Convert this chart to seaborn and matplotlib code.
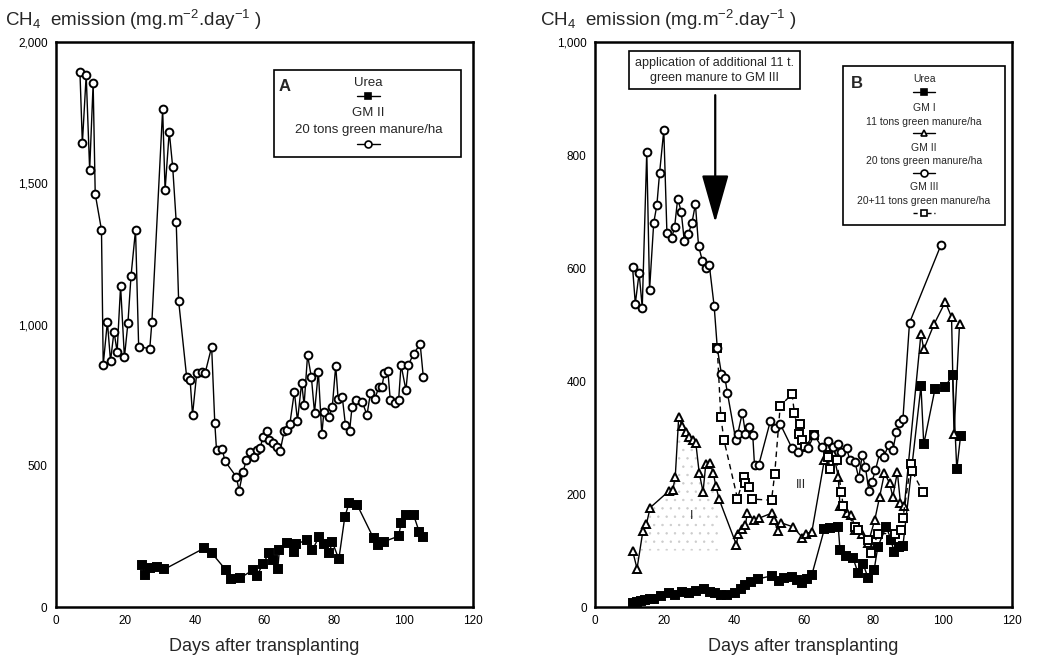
import numpy as np
import pandas as pd
import matplotlib
matplotlib.use("Agg")
import matplotlib.pyplot as plt
from matplotlib.patches import Rectangle
import seaborn as sns

# ---------------- Panel A: Urea vs GM II ----------------
a_gm2_day = [6.9, 7.6, 8.7, 9.7, 10.7, 11.3, 13.1, 13.6, 14.8, 15.7, 16.7, 17.6, 18.6, 19.7,
             20.7, 21.6, 22.9, 23.8, 27.0, 27.6, 30.7, 31.4, 32.6, 33.6, 34.6, 35.3, 37.6,
             38.6, 39.3, 40.5, 41.9, 42.9, 44.8, 45.7, 46.2, 47.9, 48.6, 51.9, 52.7, 53.8,
             54.8, 55.7, 56.9, 57.8, 58.8, 59.5, 60.7, 61.2, 62.4, 63.5, 64.5, 65.7, 66.4,
             67.3, 68.6, 69.5, 70.7, 71.4, 72.4, 73.5, 74.4, 75.5, 76.5, 77.1, 78.6, 79.5,
             80.5, 81.2, 82.4, 83.3, 84.5, 85.2, 86.4, 88.1, 89.5, 90.5, 91.7, 92.9, 93.8,
             94.5, 95.5, 96.2, 97.6, 98.6, 99.3, 100.7, 101.4, 102.9, 104.8, 105.7]
a_gm2_val = [1895, 1641, 1883, 1547, 1854, 1462, 1335, 857, 1010, 871, 975, 904, 1136, 884,
             1004, 1172, 1335, 921, 915, 1008, 1762, 1476, 1683, 1556, 1364, 1084, 815,
             804, 680, 827, 833, 827, 921, 652, 556, 558, 517, 461, 412, 478,
             520, 550, 532, 556, 562, 601, 624, 591, 579, 567, 552, 624, 627,
             648, 762, 659, 794, 715, 892, 813, 688, 833, 611, 691, 674, 707,
             854, 735, 742, 644, 624, 709, 733, 727, 680, 758, 735, 778, 780,
             829, 836, 733, 721, 733, 857, 768, 857, 896, 931, 815]

a_urea_day = [24.8, 25.7, 27.1, 29.0, 31.1, 42.6, 44.9, 48.9, 50.3, 52.9, 56.7, 57.8, 59.5,
              61.4, 62.4, 63.8, 64.3, 66.4, 68.6, 69.2, 72.1, 73.8, 75.7, 77.1, 78.6, 79.5,
              81.4, 83.1, 84.3, 86.7, 91.4, 92.7, 94.3, 98.6, 99.3, 100.7, 102.9, 104.5, 105.7]
a_urea_val = [149, 113, 137, 140, 133, 208, 190, 131, 98, 102, 131, 110, 152,
              192, 166, 133, 202, 228, 196, 223, 237, 202, 249, 223, 190, 231,
              169, 318, 367, 361, 243, 220, 231, 251, 296, 326, 326, 267, 247]

# ---------------- Panel B: Urea, GM I, GM II, GM III ----------------
b_urea_day = [10.8, 12.0, 13.2, 14.4, 15.7, 17.0, 19.0, 21.4, 23.0, 25.0, 27.0, 29.0, 31.4,
              33.0, 34.5, 36.2, 38.0, 40.3, 42.0, 43.3, 45.0, 47.0, 50.8, 52.9, 54.5, 56.7,
              58.0, 59.5, 61.0, 62.4, 66.0, 67.6, 70.0, 70.5, 72.1, 74.3, 75.7, 77.1, 78.6,
              80.3, 81.4, 83.8, 85.2, 86.0, 87.6, 88.6, 93.8, 94.6, 97.8, 100.7, 102.9,
              104.1, 105.2]
b_urea_val = [7, 8, 10, 12, 15, 14, 20, 24, 22, 26, 25, 28, 31,
              27, 25, 21, 22, 24, 32, 39, 45, 50, 55, 46, 52, 54,
              48, 42, 50, 57, 138, 139, 142, 101, 90, 86, 60, 77, 51,
              65, 107, 142, 119, 98, 107, 108, 391, 288, 385, 389, 411,
              244, 303]

b_gm1_day = [10.8, 12.1, 13.8, 14.8, 15.9, 21.4, 22.4, 23.1, 24.1, 25.1, 26.2, 27.1, 28.1,
             29.0, 30.0, 31.1, 31.9, 33.1, 34.0, 34.8, 35.7, 40.7, 41.2, 42.4, 43.3, 43.8,
             45.7, 47.1, 50.8, 51.4, 52.7, 53.6, 56.9, 59.7, 60.7, 62.4, 66.0, 66.7, 68.6,
             70.0, 70.5, 72.4, 73.8, 74.9, 76.7, 78.6, 80.5, 81.9, 83.3, 84.8, 85.7, 87.0,
             87.9, 89.0, 93.8, 94.6, 97.6, 100.8, 102.6, 103.3, 104.9]
b_gm1_val = [100, 68, 135, 147, 176, 206, 207, 231, 337, 320, 309, 301, 296,
             291, 237, 204, 254, 255, 238, 214, 191, 110, 130, 138, 145, 166,
             154, 157, 166, 154, 135, 149, 142, 123, 130, 133, 260, 284, 272,
             231, 178, 166, 163, 136, 130, 113, 154, 195, 237, 219, 195, 239,
             184, 178, 484, 456, 501, 540, 513, 307, 501]

b_gm2_day = [10.8, 11.6, 12.7, 13.6, 14.9, 15.7, 16.9, 17.8, 18.6, 19.8, 20.7, 22.1, 22.9,
             23.8, 24.8, 25.7, 26.9, 27.9, 28.9, 29.8, 30.9, 31.9, 32.9, 34.3, 35.2, 36.4,
             37.4, 38.1, 40.5, 41.1, 42.4, 43.3, 44.3, 45.4, 45.9, 47.1, 50.5, 51.7, 53.3,
             56.7, 58.4, 61.2, 63.1, 65.2, 67.0, 68.6, 70.0, 70.9, 72.4, 73.3, 74.8, 75.9,
             76.9, 77.8, 78.8, 79.7, 80.7, 81.9, 83.1, 84.5, 85.7, 86.7, 87.6, 88.6, 90.5,
             99.5]
b_gm2_val = [602, 537, 591, 530, 806, 561, 680, 711, 769, 844, 662, 654, 672,
             723, 700, 648, 661, 680, 713, 639, 613, 600, 605, 532, 458, 412,
             405, 379, 296, 307, 344, 307, 318, 304, 251, 251, 330, 316, 324,
             281, 275, 281, 304, 284, 293, 284, 288, 275, 281, 261, 257, 228,
             269, 248, 206, 222, 242, 272, 266, 287, 278, 309, 325, 332, 503,
             640]

b_gm3_day = [35.2, 36.2, 37.1, 41.0, 42.9, 43.3, 44.3, 45.2, 50.8, 51.7, 53.3, 56.7, 57.4,
             58.6, 59.1, 59.5, 60.5, 62.9, 67.0, 67.6, 69.5, 70.9, 71.4, 74.8, 75.7, 78.6,
             79.5, 81.4, 86.2, 88.1, 88.6, 90.9, 91.2, 94.3]
b_gm3_val = [458, 337, 296, 192, 231, 220, 213, 191, 189, 235, 356, 377, 343,
             307, 324, 296, 284, 304, 266, 245, 260, 204, 178, 142, 136, 119,
             95, 130, 130, 136, 157, 254, 241, 204]

x_ticks = [0, 20, 40, 60, 80, 100, 120]
a_y_ticks = [0, 500, 1000, 1500, 2000]
b_y_ticks = [0, 200, 400, 600, 800, 1000]

y_title = "CH$_4$  emission (mg.m$^{-2}$.day$^{-1}$ )"
x_title = "Days after transplanting"

sns.set_style("white")
plt.rcParams["font.family"] = ["Liberation Sans", "DejaVu Sans"]
plt.rcParams["mathtext.fontset"] = "custom"
plt.rcParams["mathtext.rm"] = "Liberation Sans"
plt.rcParams["mathtext.it"] = "Liberation Sans"
plt.rcParams["hatch.linewidth"] = 0.5

fig = plt.figure(figsize=(10.4, 6.65), dpi=100)
axA = fig.add_axes([0.0538, 0.0872, 0.401, 0.8496])
axB = fig.add_axes([0.5721, 0.0872, 0.401, 0.8496])

MS = 5.6


def series(ax, days, vals, marker, face, ls="-", ms=MS, z=3):
    df = pd.DataFrame({"day": days, "val": vals})
    sns.lineplot(data=df, x="day", y="val", ax=ax, estimator=None, sort=False,
                 color="black", lw=1.0, linestyle=ls, marker=marker, markersize=ms,
                 markerfacecolor=face, markeredgecolor="black", markeredgewidth=1.4,
                 zorder=z, legend=False)


def style_axes(ax, ymax, yticks):
    ax.set_xlim(0, 120)
    ax.set_ylim(0, ymax)
    ax.set_xticks(x_ticks)
    ax.set_yticks(yticks)
    ax.set_yticklabels([f"{t:,}" for t in yticks])
    ax.tick_params(direction="in", length=5, width=1.2, labelsize=8.5, pad=6,
                   colors="black")
    for s in ax.spines.values():
        s.set_linewidth(1.8)
        s.set_color("black")
    ax.set_xlabel(x_title, fontsize=13, labelpad=8)
    ax.set_ylabel("")


def legend_box(ax, x0, y0, x1, y1):
    ax.add_patch(Rectangle((x0, y0), x1 - x0, y1 - y0, transform=ax.transAxes,
                           facecolor="white", edgecolor="black", lw=1.2, zorder=5,
                           clip_on=False))


def legend_sample(ax, fx, fy, marker, face, ls="-", ms=MS):
    ax.plot([fx - 0.027, fx + 0.027], [fy, fy], transform=ax.transAxes,
            color="black", lw=1.0, ls=ls, zorder=6, clip_on=False)
    ax.plot([fx], [fy], transform=ax.transAxes, marker=marker, ms=ms - 0.6,
            mfc=face, mec="black", mew=1.2, zorder=7, clip_on=False)


# ---- Panel A ----
series(axA, a_urea_day, a_urea_val, "s", "black")
series(axA, a_gm2_day, a_gm2_val, "o", "white")
style_axes(axA, 2000, a_y_ticks)

legend_box(axA, 0.523, 0.796, 0.971, 0.950)
cx = 0.749
axA.text(0.548, 0.922, "A", transform=axA.transAxes, fontsize=12, fontweight="bold",
         va="center", ha="center", zorder=8)
axA.text(cx, 0.928, "Urea", transform=axA.transAxes, fontsize=9.5, ha="center",
         va="center", zorder=8)
legend_sample(axA, cx, 0.904, "s", "black")
axA.text(cx, 0.874, "GM II", transform=axA.transAxes, fontsize=9.5, ha="center",
         va="center", zorder=8)
axA.text(cx, 0.845, "20 tons green manure/ha", transform=axA.transAxes, fontsize=9.5,
         ha="center", va="center", zorder=8)
legend_sample(axA, cx, 0.820, "o", "white")

# ---- Panel B ----
# light stipple over the area between GM I and urea during the early period
early = np.array(b_gm1_day) <= 35.7
gd = np.array(b_gm1_day)[early]
gv = np.array(b_gm1_val)[early]
uv = np.interp(gd, b_urea_day, b_urea_val)
axB.fill_between(gd, gv, np.maximum(uv, 100), facecolor="none", edgecolor="0.8",
                 hatch="..", lw=0, zorder=1)

series(axB, b_urea_day, b_urea_val, "s", "black", z=3)
series(axB, b_gm1_day, b_gm1_val, "^", "white", z=4)
series(axB, b_gm3_day, b_gm3_val, "s", "white", ls=(0, (4, 3)), z=4)
series(axB, b_gm2_day, b_gm2_val, "o", "white", z=5)
style_axes(axB, 1000, b_y_ticks)

axB.text(27.7, 161, "I", fontsize=9, ha="center", va="center", zorder=6)
axB.text(59.4, 216, "III", fontsize=9, ha="center", va="center", zorder=6)

axB.text(34.4, 950, "application of additional 11 t.\ngreen manure to GM III",
         fontsize=9, ha="center", va="center", linespacing=1.35, zorder=8,
         bbox=dict(boxstyle="square,pad=0.45", facecolor="white", edgecolor="black",
                   lw=1.2))
axB.annotate("", xy=(34.6, 681), xytext=(34.6, 906),
             arrowprops=dict(arrowstyle="-|>,head_length=3.0,head_width=0.85",
                             mutation_scale=10, lw=1.6, color="black",
                             shrinkA=0, shrinkB=0), zorder=8)

legend_box(axB, 0.595, 0.676, 0.983, 0.958)
cx = 0.789
axB.text(0.628, 0.927, "B", transform=axB.transAxes, fontsize=12, fontweight="bold",
         va="center", ha="center", zorder=8)
rows = [("Urea", 0.934), ("GM I", 0.883), ("11 tons green manure/ha", 0.859),
        ("GM II", 0.812), ("20 tons green manure/ha", 0.789),
        ("GM III", 0.743), ("20+11 tons green manure/ha", 0.719)]
for txt, fy in rows:
    axB.text(cx, fy, txt, transform=axB.transAxes, fontsize=7.5, ha="center",
             va="center", zorder=8)
legend_sample(axB, cx, 0.911, "s", "black")
legend_sample(axB, cx, 0.839, "^", "white")
legend_sample(axB, cx, 0.768, "o", "white")
legend_sample(axB, cx, 0.697, "s", "white", ls=(0, (3, 2)))

# axis titles above each panel
fig.text(5 / 1040, 1 - 20 / 665, y_title, fontsize=13.5, ha="left", va="center")
fig.text(540 / 1040, 1 - 20 / 665, y_title, fontsize=13.5, ha="left", va="center")

fig.savefig("out.png", dpi=100)
